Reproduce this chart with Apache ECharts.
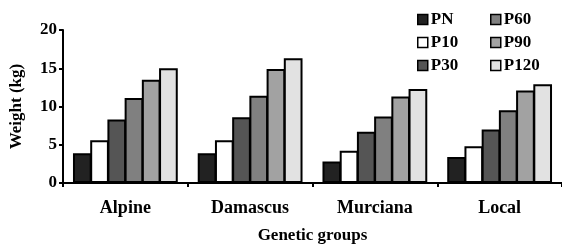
<!DOCTYPE html>
<html>
<head>
<meta charset="utf-8">
<script src="https://cdn.jsdelivr.net/npm/echarts@6/dist/echarts.min.js"></script>
<style>
  html, body { margin: 0; padding: 0; background: #fff; }
  #chart { width: 562px; height: 249px; }
</style>
</head>
<body>
<div id="chart"></div>
<script>
// data
const groups = ["Alpine", "Damascus", "Murciana", "Local"];
const stages = ["PN", "P10", "P30", "P60", "P90", "P120"];
const pn = [3.9, 3.9, 2.8, 3.4];
const p10 = [5.6, 5.6, 4.2, 4.8];
const p30 = [8.3, 8.6, 6.7, 7.0];
const p60 = [11.1, 11.4, 8.7, 9.5];
const p90 = [13.5, 14.9, 11.3, 12.1];
const p120 = [15.0, 16.3, 12.3, 12.9];
const yTicks = [0, 5, 10, 15, 20];

const values = [pn, p10, p30, p60, p90, p120];
const fills = ["#222222", "#ffffff", "#555555", "#808080", "#a2a2a2", "#e2e2e2"];
const font = "Liberation Serif";
const txt = (size) => ({ fontFamily: font, fontSize: size, fontWeight: "bold", color: "#000" });

const chart = echarts.init(document.getElementById("chart"));

const legendBase = {
  orient: "vertical",
  top: 6,
  itemWidth: 10,
  itemHeight: 10,
  itemGap: 6,
  icon: "rect",
  itemStyle: { borderColor: "#000", borderWidth: 1.5 },
  textStyle: Object.assign(txt(17), { lineHeight: 17, padding: [0, 0, 0, -2] })
};

chart.setOption({
  animation: false,
  backgroundColor: "#fff",
  legend: [
    Object.assign({}, legendBase, { left: 412, data: stages.slice(0, 3) }),
    Object.assign({}, legendBase, { left: 485, data: stages.slice(3) })
  ],
  grid: { left: 63, top: 30, bottom: 65, right: -6 },
  xAxis: {
    type: "category",
    data: groups,
    name: "Genetic groups",
    nameLocation: "middle",
    nameGap: 44,
    nameTextStyle: txt(17),
    axisLine: { lineStyle: { color: "#000", width: 2 } },
    axisTick: { show: true, length: 4, lineStyle: { color: "#000", width: 2 } },
    axisLabel: Object.assign(txt(18), { margin: 16 })
  },
  yAxis: {
    type: "value",
    min: yTicks[0],
    max: yTicks[yTicks.length - 1],
    interval: 5,
    name: "Weight (kg)",
    nameLocation: "middle",
    nameGap: 38,
    nameTextStyle: txt(17),
    splitLine: { show: false },
    axisLine: { show: true, lineStyle: { color: "#000", width: 2 } },
    axisTick: { show: true, length: 4, lineStyle: { color: "#000", width: 2 } },
    axisLabel: Object.assign(txt(17), { margin: 6 })
  },
  series: stages.map((s, i) => ({
    name: s,
    type: "bar",
    data: values[i],
    barGap: "-8%",
    barCategoryGap: "16%",
    itemStyle: { color: fills[i], borderColor: "#000", borderWidth: 2 }
  }))
});
</script>
</body>
</html>
